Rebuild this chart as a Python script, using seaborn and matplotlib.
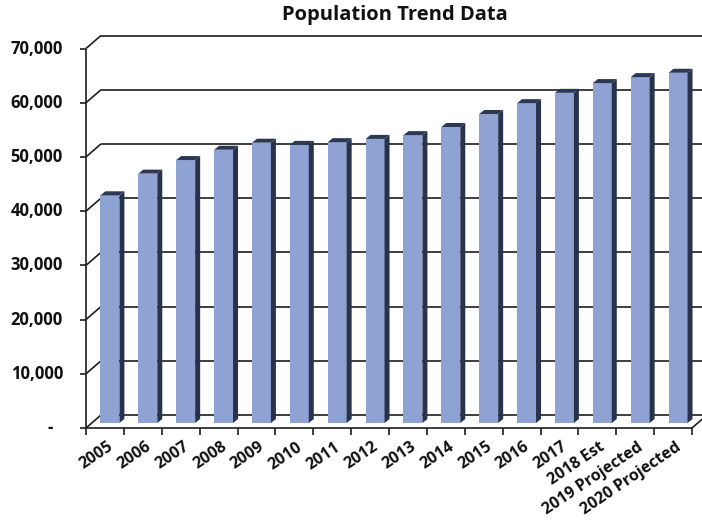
import matplotlib
matplotlib.use("Agg")
import matplotlib.pyplot as plt
import seaborn as sns
import pandas as pd
from matplotlib.patches import Polygon

# Population per year (last three are estimate / projections)
years = ["2005", "2006", "2007", "2008", "2009", "2010", "2011", "2012",
         "2013", "2014", "2015", "2016", "2017", "2018 Est",
         "2019 Projected", "2020 Projected"]
population = [42000, 46000, 48500, 50400, 51700, 51300, 51800, 52400,
              53100, 54600, 57000, 59000, 60900, 62700, 63800, 64600]
y_ticks = [0, 10000, 20000, 30000, 40000, 50000, 60000, 70000]
y_tick_labels = ["-", "10,000", "20,000", "30,000", "40,000", "50,000",
                 "60,000", "70,000"]

sns.set_theme(style="white")
plt.rcParams["font.family"] = ["Open Sans", "DejaVu Sans"]

FACE = "#8ea3d4"
SIDE = "#27324b"
TOP = "#2c3852"
INK = "#1e1e1e"
LW = 1.2

W, H = 702, 525
fig = plt.figure(figsize=(W / 100, H / 100), dpi=100)
fig.patch.set_facecolor("white")

# axes spans the plane of the bars' front faces
left_px, right_px, bottom_px, top_px = 91, 697, 423, 43.5
ax = fig.add_axes([left_px / W, 1 - bottom_px / H,
                   (right_px - left_px) / W, (bottom_px - top_px) / H])

df = pd.DataFrame({"year": years, "population": population})
sns.barplot(data=df, x="year", y="population", color=FACE, saturation=1,
            width=0.5, edgecolor="none", linewidth=0, ax=ax, zorder=3)
ax.set_xlim(-0.5, len(years) - 0.5)
ax.set_ylim(0, 70000)
ax.set_axis_off()

# pixel offsets of the front plane, back wall and bar depth
FRONT = (-5, -5)
BACK = (10, 8)
DEPTH = (5, 4)

inv = ax.transData.inverted()


def pt(x, v, off):
    d = ax.transData.transform((x, v))
    return inv.transform((d[0] + off[0], d[1] + off[1]))


def seg(p, q, **kw):
    ax.plot([p[0], q[0]], [p[1], q[1]], color=INK, lw=LW, clip_on=False,
            solid_capstyle="butt", **kw)


x_left, x_right = -0.5, len(years) - 0.5

# back wall gridlines and the diagonals joining them to the value axis
for v in y_ticks:
    seg(pt(x_left, v, BACK), pt(x_right + 1, v, BACK), zorder=1)
    seg(pt(x_left, v, FRONT), pt(x_left, v, BACK), zorder=1)
seg(pt(x_right, 0, FRONT), pt(x_right, 0, BACK), zorder=1)

# front value axis and category axis with tick marks
seg(pt(x_left, 0, FRONT), pt(x_left, 70000, FRONT), zorder=5)
seg(pt(x_left, 0, FRONT), pt(x_right, 0, FRONT), zorder=5)
for v in y_ticks:
    seg(pt(x_left, v, FRONT), pt(x_left, v, (FRONT[0] - 6, FRONT[1])), zorder=5)
for k in range(len(years) + 1):
    xb = x_left + k
    seg(pt(xb, 0, FRONT), pt(xb, 0, (FRONT[0], FRONT[1] - 7)), zorder=5)

# side and top faces of each bar
for p in ax.patches:
    x0, w, h = p.get_x(), p.get_width(), p.get_height()
    x1 = x0 + w
    side = [pt(x1, 0, (0, 0)), pt(x1, h, (0, 0)), pt(x1, h, DEPTH), pt(x1, 0, DEPTH)]
    top = [pt(x0, h, (0, 0)), pt(x1, h, (0, 0)), pt(x1, h, DEPTH), pt(x0, h, DEPTH)]
    ax.add_patch(Polygon(side, closed=True, facecolor=SIDE, edgecolor="none",
                         zorder=3, clip_on=False))
    ax.add_patch(Polygon(top, closed=True, facecolor=TOP, edgecolor="none",
                         zorder=3, clip_on=False))

# value labels
for v, lab in zip(y_ticks, y_tick_labels):
    if v == 0:
        xy = pt(x_left, v, (FRONT[0] - 33, FRONT[1]))
    else:
        xy = pt(x_left, v, (FRONT[0] - 23, FRONT[1]))
    ax.text(xy[0], xy[1], lab, ha="right", va="center", fontsize=12,
            fontweight="bold", color="#111111", clip_on=False)

# category labels
for i, lab in enumerate(years):
    xy = pt(i, 0, (FRONT[0] + 2, FRONT[1] - 11))
    ax.text(xy[0], xy[1], lab, ha="right", va="top", rotation=34,
            rotation_mode="anchor", fontsize=11.5, fontweight="bold",
            color="#111111", clip_on=False)

fig.text(395 / W, 1 - 15 / H, "Population Trend Data", ha="center",
         va="center", fontsize=14.5, fontweight="bold", color="#111111")

fig.savefig("out.png", dpi=100)
